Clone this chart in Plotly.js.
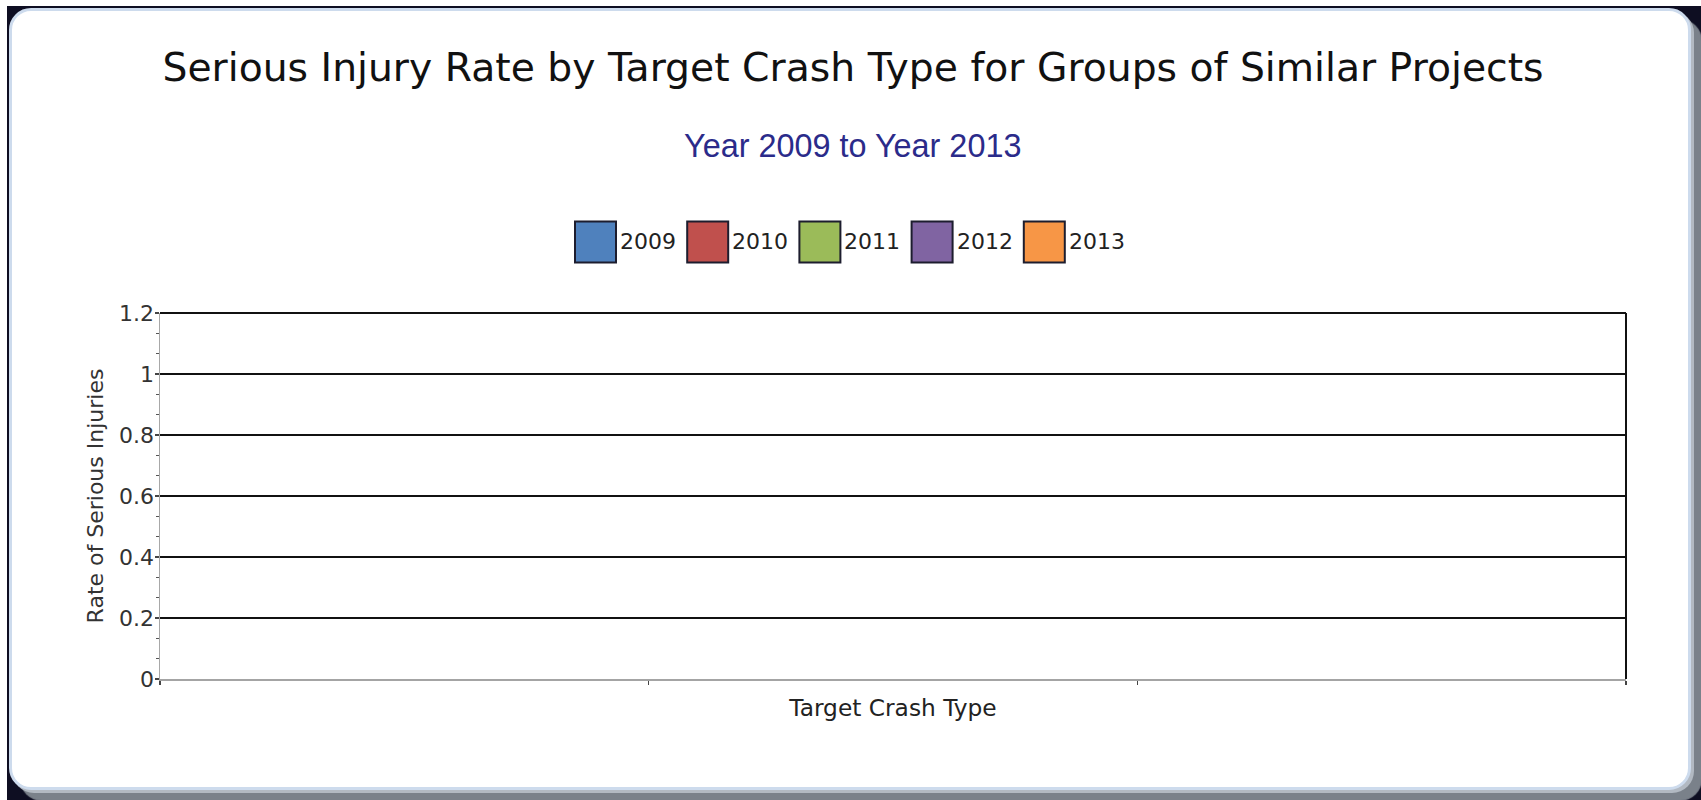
<!DOCTYPE html>
<html>
<head>
<meta charset="utf-8">
<script src="https://cdn.plot.ly/plotly-3.0.1.min.js"></script>
<style>
  html, body { margin: 0; padding: 0; background: #ffffff; width: 1701px; height: 800px; overflow: hidden; }
  #outer { position: absolute; left: 7px; top: 6px; width: 1694px; height: 794px; background: #0e0e22; overflow: hidden; }
  #panel { position: absolute; left: 2px; top: 2px; width: 1682px; height: 782px; box-sizing: border-box;
           border-radius: 22px; background: #ffffff; border: 3px solid #cddbed;
           box-shadow: 3px 3px 0 #b2b9c2, 11px 11px 1px #7a818a; }
  #chart { position: absolute; left: 0; top: 0; width: 1701px; height: 800px; z-index: 2; }
</style>
</head>
<body>
<div id="outer"><div id="panel"></div></div>
<div id="chart"></div>
<script>
// ---- data ----
const years = ['2009', '2010', '2011', '2012', '2013'];
const seriesColors = ['#4f81bd', '#c0504d', '#9bbb59', '#8064a2', '#f79646'];
const categories = [];            // no target crash types in this report
const values2009 = [];
const values2010 = [];
const values2011 = [];
const values2012 = [];
const values2013 = [];
const seriesValues = [values2009, values2010, values2011, values2012, values2013];
const yTickVals = [0, 0.2, 0.4, 0.6, 0.8, 1, 1.2];
const yTickText = ['0', '0.2', '0.4', '0.6', '0.8', '1', '1.2'];
const xTickVals = [0, 1, 2, 3];
const xTickText = ['', '', '', ''];

const titleText = 'Serious Injury Rate by Target Crash Type for Groups of Similar Projects';
const subtitleText = 'Year 2009 to Year 2013';

// ---- layout constants ----
const W = 1701, H = 800;
const M = { l: 160, r: 75, t: 313, b: 121 };
const plotW = W - M.l - M.r, plotH = H - M.t - M.b;
const px2x = p => (p - M.l) / plotW;
const py2y = p => (H - M.b - p) / plotH;

const traces = years.map((yr, i) => ({
  type: 'bar', name: yr, x: categories, y: seriesValues[i],
  marker: { color: seriesColors[i] }, showlegend: false
}));

// custom legend (large swatches)
const legFirst = 575, legStep = 112.2, legSize = 41, legY = 242;
const shapes = [
  { type: 'line', xref: 'paper', yref: 'paper', x0: 1, x1: 1, y0: 0, y1: 1,
    line: { color: '#111', width: 2 } },
  { type: 'line', xref: 'paper', yref: 'paper', x0: 0, x1: 1, y0: 1, y1: 1,
    line: { color: '#111', width: 2 } }
];
const annotations = [
  { text: subtitleText, xref: 'paper', yref: 'paper', x: px2x(852), y: py2y(146),
    xanchor: 'center', yanchor: 'middle', showarrow: false,
    font: { family: 'Liberation Sans, Arial, sans-serif', size: 32.4, color: '#2b2b8a' } }
];
years.forEach((yr, i) => {
  const left = legFirst + i * legStep;
  shapes.push({ type: 'rect', xref: 'paper', yref: 'paper',
    xsizemode: 'pixel', ysizemode: 'pixel',
    xanchor: px2x(left), yanchor: py2y(legY),
    x0: 0, x1: legSize, y0: -legSize / 2, y1: legSize / 2,
    fillcolor: seriesColors[i], line: { color: '#1d1d2e', width: 2 } });
  annotations.push({ text: yr, xref: 'paper', yref: 'paper',
    x: px2x(left + legSize + 2), y: py2y(legY), xanchor: 'left', yanchor: 'middle',
    showarrow: false, font: { family: 'DejaVu Sans', size: 22, color: '#222' } });
});

const layout = {
  width: W, height: H,
  margin: M,
  paper_bgcolor: 'rgba(0,0,0,0)',
  plot_bgcolor: '#ffffff',
  font: { family: 'DejaVu Sans', size: 22, color: '#333' },
  showlegend: false,
  title: { text: titleText, xref: 'container', yref: 'container', x: 853 / W, y: 1 - 67 / H,
           xanchor: 'center', yanchor: 'middle',
           font: { family: 'DejaVu Sans', size: 39.3, color: '#111' } },
  xaxis: {
    type: 'linear', range: [0, 3], tickmode: 'array', tickvals: xTickVals, ticktext: xTickText,
    ticks: 'outside', ticklen: 4, tickwidth: 1.5, tickcolor: '#444',
    showgrid: false, zeroline: false, showline: true, linecolor: '#a4a4a4', linewidth: 2,
    title: { text: 'Target Crash Type', standoff: 11, font: { size: 23.3, color: '#222' } },
    fixedrange: true
  },
  yaxis: {
    range: [0, 1.2], tickmode: 'array', tickvals: yTickVals, ticktext: yTickText,
    ticks: 'outside', ticklen: 4, tickwidth: 1.5, tickcolor: '#444',
    ticklabelstandoff: -4,
    tickfont: { size: 22, color: '#333' },
    showgrid: true, gridcolor: '#111', gridwidth: 2,
    zeroline: false, showline: true, linecolor: '#a8a8a8', linewidth: 1.5,
    minor: { tickmode: 'linear', tick0: 0, dtick: 0.2 / 3, ticks: 'outside', ticklen: 3,
             tickcolor: '#555', tickwidth: 1.5, showgrid: false },
    title: { text: 'Rate of Serious Injuries', standoff: 9, font: { size: 22, color: '#333' } },
    fixedrange: true
  },
  shapes: shapes,
  annotations: annotations,
  bargap: 0.2
};

Plotly.newPlot('chart', traces, layout, { displayModeBar: false, staticPlot: true });
</script>
</body>
</html>
